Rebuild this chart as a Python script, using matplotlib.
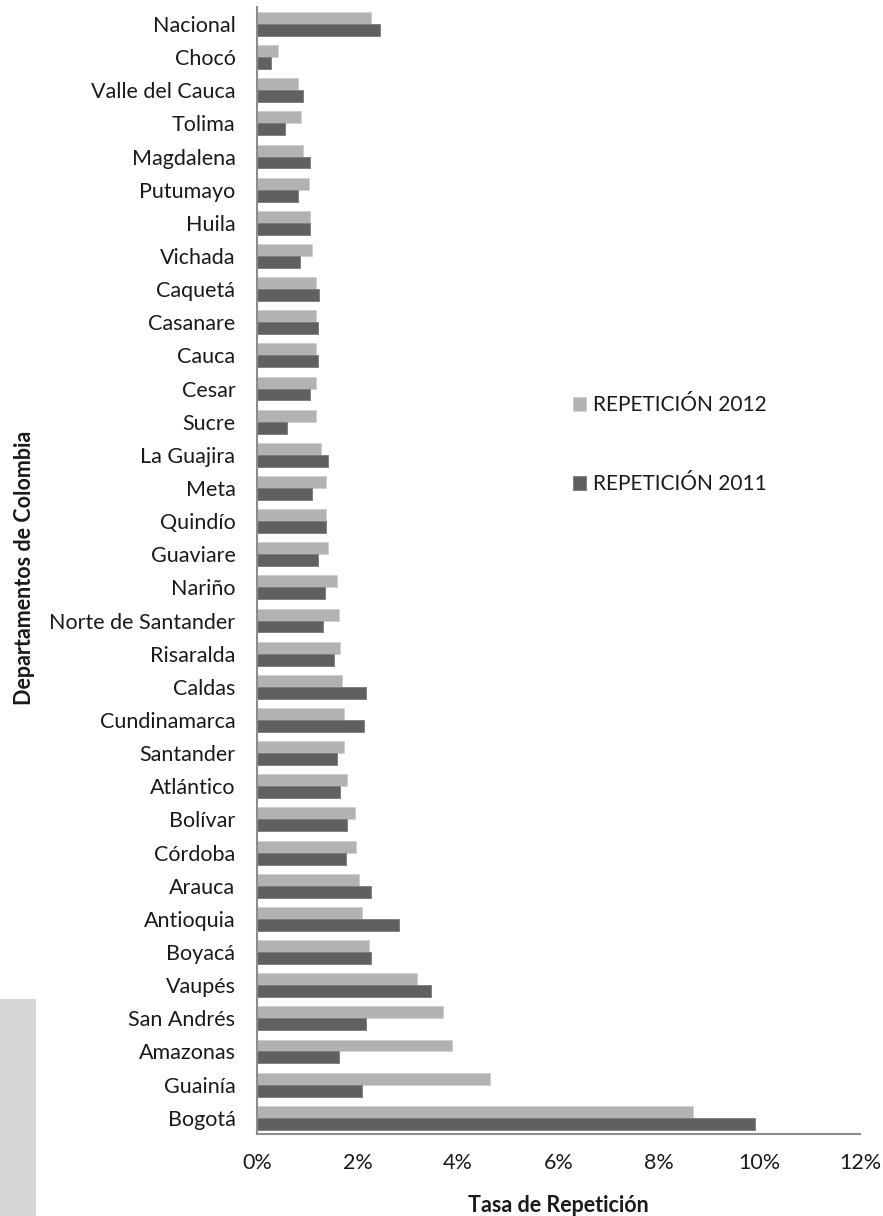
import matplotlib
matplotlib.use("Agg")
import matplotlib.pyplot as plt
import numpy as np
from matplotlib.patches import Rectangle
from matplotlib.ticker import FuncFormatter

departamentos = ["Nacional", "Chocó", "Valle del Cauca", "Tolima", "Magdalena", "Putumayo",
                 "Huila", "Vichada", "Caquetá", "Casanare", "Cauca", "Cesar", "Sucre",
                 "La Guajira", "Meta", "Quindío", "Guaviare", "Nariño", "Norte de Santander",
                 "Risaralda", "Caldas", "Cundinamarca", "Santander", "Atlántico", "Bolívar",
                 "Córdoba", "Arauca", "Antioquia", "Boyacá", "Vaupés", "San Andrés",
                 "Amazonas", "Guainía", "Bogotá"]

rep_2012 = [2.27, 0.42, 0.82, 0.88, 0.92, 1.03, 1.06, 1.10, 1.17, 1.17, 1.17, 1.17, 1.17,
            1.27, 1.38, 1.38, 1.42, 1.59, 1.63, 1.66, 1.70, 1.74, 1.74, 1.80, 1.95, 1.98,
            2.02, 2.09, 2.23, 3.18, 3.71, 3.89, 4.64, 8.67]

rep_2011 = [2.44, 0.28, 0.92, 0.56, 1.06, 0.82, 1.06, 0.85, 1.24, 1.21, 1.21, 1.06, 0.60,
            1.42, 1.10, 1.38, 1.21, 1.35, 1.31, 1.53, 2.16, 2.13, 1.59, 1.66, 1.80, 1.77,
            2.27, 2.83, 2.27, 3.47, 2.16, 1.63, 2.09, 9.91]

x_ticks = [0, 2, 4, 6, 8, 10, 12]

FONT = ["Lato", "DejaVu Sans"]
plt.rcParams['font.family'] = FONT

fig = plt.figure(figsize=(8.83, 12.16), dpi=100)
ax = fig.add_axes([257/883, 1 - 1134.3/1216, (860-257)/883, (1134.3-7.4)/1216])

n = len(departamentos)
y = np.arange(n)
h = 0.36
c12 = "#b2b2b2"
c11 = "#606060"
ax.barh(y - h/2, rep_2012, height=h, color=c12, edgecolor="#cfcfcf", linewidth=0.6,
        label="REPETICIÓN 2012")
ax.barh(y + h/2, rep_2011, height=h, color=c11, edgecolor="#7a7a7a", linewidth=0.6,
        label="REPETICIÓN 2011")

ax.set_ylim(n - 0.5, -0.5)
ax.set_xlim(0, 12)
ax.set_yticks(y)
ax.set_yticklabels(departamentos, fontsize=15.5, color="#1a1a1a")
ax.set_xticks(x_ticks)
ax.xaxis.set_major_formatter(FuncFormatter(lambda v, p: f"{v:.0f}%"))
ax.tick_params(axis="x", labelsize=15.5, colors="#1a1a1a", length=0, pad=13.5)
ax.tick_params(axis="y", length=0, pad=15.5)

for s in ["top", "right"]:
    ax.spines[s].set_visible(False)
for s in ["left", "bottom"]:
    ax.spines[s].set_color("#8c8c8c")
    ax.spines[s].set_linewidth(1.5)

ax.set_xlabel("Tasa de Repetición", fontsize=15.5, fontweight="bold", color="#1a1a1a",
              labelpad=16)

fig.text(25/883, 1 - 568/1216, "Departamentos de Colombia", rotation=90,
         fontsize=15.5, fontweight="bold", color="#1a1a1a", ha="center", va="center")

leg = ax.legend(loc="upper left", bbox_to_anchor=((572.5-257)/603, 1 - (395-7.4)/1126.9),
                frameon=False, fontsize=15, labelspacing=2.85, handlelength=0.67,
                handleheight=0.67, handletextpad=0.3, borderpad=0, borderaxespad=0)
for t in leg.get_texts():
    t.set_color("#1a1a1a")

fig.patches.append(Rectangle((0, 0), 36/883, (1216-999)/1216, transform=fig.transFigure,
                             facecolor="#d5d6d8", edgecolor="none", zorder=-1))

fig.savefig("out.png", dpi=100)
